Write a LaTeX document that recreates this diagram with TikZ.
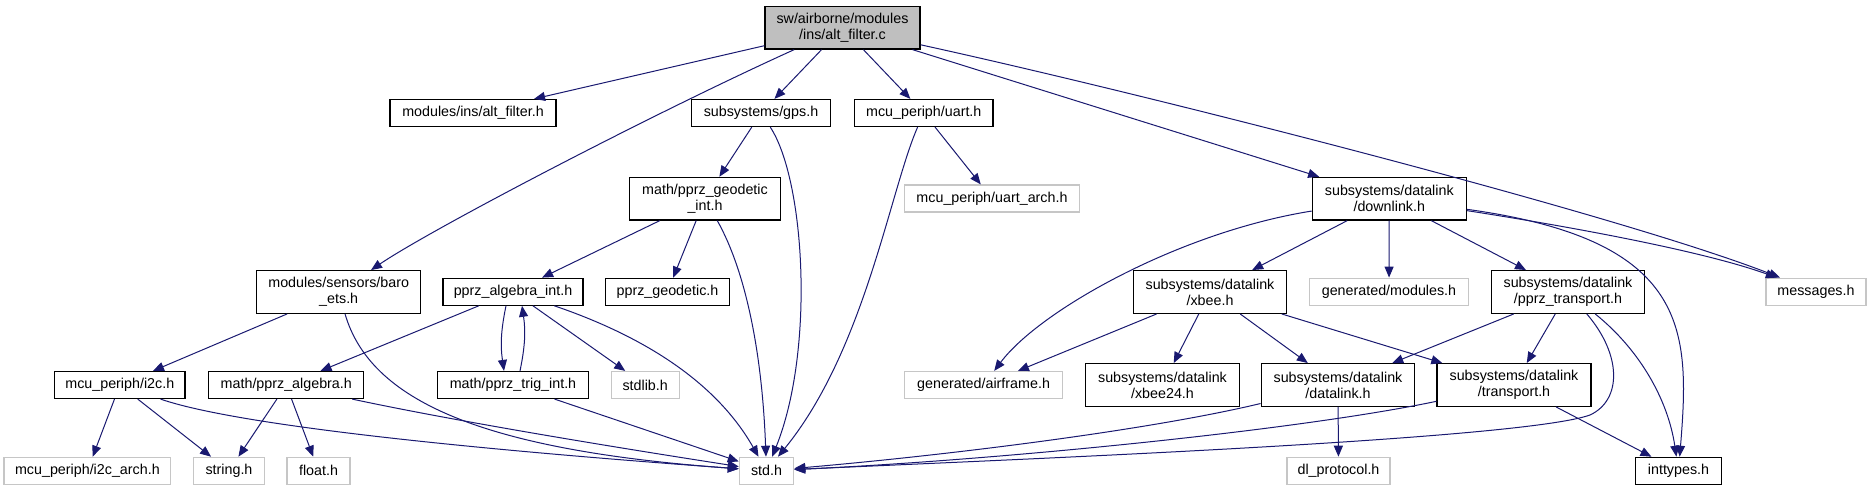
\documentclass[tikz,border=0pt]{standalone}
\usepackage{fontspec}
\setmainfont{Liberation Sans}
\usepackage{xcolor}
\usepackage{tikz}
\usetikzlibrary{arrows.meta}
\definecolor{depblue}{HTML}{191970}
\definecolor{rootgray}{HTML}{BFBFBF}
\definecolor{sysgray}{HTML}{C6C6C6}
\tikzset{
  filenode/.style={draw=black, line width=1.2pt, fill=white, inner sep=0pt, minimum height=27pt, align=center, font=\fontsize{14.3}{15.8}\selectfont},
  twoline/.style={minimum height=42.7pt},
  sysnode/.style={filenode, draw=sysgray},
  rootnode/.style={filenode, twoline, fill=rootgray},
  depline/.style={-{Triangle[length=11pt, width=9pt]}, line width=1pt, draw=depblue}
}

\begin{document}
\begin{tikzpicture}[x=1pt, y=-1pt]
  \useasboundingbox (0,0) rectangle (1871,491);

  % the file itself
  \node[rootnode, minimum width=155pt] at (842.5,27.7) (altc)
    {sw/airborne/modules\\/ins/alt\_filter.c};

  % direct includes
  \node[filenode, minimum width=166pt] at (473,113) (altfh) {modules/ins/alt\_filter.h};
  \node[filenode, minimum width=139pt] at (761,113) (gps) {subsystems/gps.h};
  \node[filenode, minimum width=138.5pt] at (923.8,113) (uart) {mcu\_periph/uart.h};

  \node[filenode, twoline, minimum width=151pt] at (705,198.7) (geoint)
    {math/pprz\_geodetic\\\_int.h};
  \node[sysnode, minimum width=174.5pt] at (992,198.5) (uarch) {mcu\_periph/uart\_arch.h};
  \node[filenode, twoline, minimum width=154pt] at (1389.3,198.7) (dlink)
    {subsystems/datalink\\/downlink.h};

  \node[filenode, twoline, minimum width=164pt] at (338.7,292) (baro)
    {modules/sensors/baro\\\_ets.h};
  \node[filenode, minimum width=140pt] at (513,291.7) (algint) {pprz\_algebra\_int.h};
  \node[filenode, minimum width=124pt] at (667.5,291.7) (geod) {pprz\_geodetic.h};
  \node[filenode, twoline, minimum width=153.5pt] at (1210,292) (xbee)
    {subsystems/datalink\\/xbee.h};
  \node[sysnode, minimum width=159pt] at (1389,291.7) (genmod) {generated/modules.h};
  \node[filenode, twoline, minimum width=153pt] at (1568,292) (pprztr)
    {subsystems/datalink\\/pprz\_transport.h};
  \node[sysnode, minimum width=100pt] at (1816,291.7) (msgs) {messages.h};

  \node[filenode, minimum width=130.4pt] at (119.8,385) (i2c) {mcu\_periph/i2c.h};
  \node[filenode, minimum width=155pt] at (286.3,385) (alg) {math/pprz\_algebra.h};
  \node[filenode, minimum width=150.7pt] at (513,385) (trig) {math/pprz\_trig\_int.h};
  \node[sysnode, minimum width=68pt] at (645.2,385) (stdlib) {stdlib.h};
  \node[sysnode, minimum width=158pt] at (983.6,385) (airframe) {generated/airframe.h};
  \node[filenode, twoline, minimum width=153.4pt] at (1162.5,385) (xbee24)
    {subsystems/datalink\\/xbee24.h};
  \node[filenode, twoline, minimum width=153.7pt] at (1338,385) (dlk)
    {subsystems/datalink\\/datalink.h};
  \node[filenode, twoline, minimum width=154pt] at (1514,385) (transp)
    {subsystems/datalink\\/transport.h};

  % bottom row
  \node[sysnode, minimum width=166.8pt] at (87.4,470.8) (i2carch) {mcu\_periph/i2c\_arch.h};
  \node[sysnode, minimum width=70.3pt] at (229,470.8) (strh) {string.h};
  \node[sysnode, minimum width=63pt] at (318.5,470.8) (floath) {float.h};
  \node[sysnode, minimum width=54.3pt] at (766.5,470.8) (stdh) {std.h};
  \node[sysnode, minimum width=103pt] at (1338.5,470.8) (dlproto) {dl\_protocol.h};
  \node[filenode, minimum width=85.7pt] at (1678.5,470.8) (inttypes) {inttypes.h};

  % alt_filter.c
  \draw[depline] (altc) -- (altfh);
  \draw[depline] (altc) .. controls (650,115) and (430,230) .. (baro);
  \draw[depline] (altc) -- (gps);
  \draw[depline] (altc) -- (uart);
  \draw[depline] (altc) -- (dlink);
  \draw[depline] (altc) .. controls (1150,95) and (1620,215) .. (msgs);

  % gps.h, uart.h
  \draw[depline] (gps) -- (geoint);
  \draw[depline] (gps) .. controls (805,180) and (815,350) .. (stdh);
  \draw[depline] (uart) -- (uarch);
  \draw[depline] (uart) .. controls (890,190) and (865,350) .. (stdh);

  % pprz_geodetic_int.h
  \draw[depline] (geoint) -- (algint);
  \draw[depline] (geoint) -- (geod);
  \draw[depline] (geoint) .. controls (745,270) and (762,350) .. (stdh);

  % downlink.h
  \draw[depline] (dlink) .. controls (1180,232) and (1040,310) .. (airframe);
  \draw[depline] (dlink) -- (xbee);
  \draw[depline] (dlink) -- (genmod);
  \draw[depline] (dlink) -- (pprztr);
  \draw[depline] (dlink) .. controls (1560,225) and (1700,250) .. (msgs);
  \draw[depline] (dlink) .. controls (1690,240) and (1690,330) .. (inttypes);

  % baro_ets.h
  \draw[depline] (baro) -- (i2c);
  \draw[depline] (baro) .. controls (370,400) and (480,450) .. (stdh);

  % pprz_algebra_int.h <-> pprz_trig_int.h
  \draw[depline] (algint) -- (alg);
  \draw[depline] ([xshift=-7pt]algint.south) to[bend right=10] ([xshift=-9pt]trig.north);
  \draw[depline] ([xshift=7pt]trig.north) to[bend right=10] ([xshift=9pt]algint.south);
  \draw[depline] (algint) -- (stdlib);
  \draw[depline] (algint) .. controls (640,335) and (715,380) .. (stdh);
  \draw[depline] (trig) -- (stdh);

  % xbee.h
  \draw[depline] (xbee) -- (airframe);
  \draw[depline] (xbee) -- (xbee24);
  \draw[depline] (xbee) -- (dlk);
  \draw[depline] (xbee) -- (transp);

  % pprz_transport.h
  \draw[depline] (pprztr) -- (dlk);
  \draw[depline] (pprztr) -- (transp);
  \draw[depline] (pprztr) .. controls (1622,355) and (1622,400) .. (1590,415)
    .. controls (1520,440) and (1000,460) .. (stdh);
  \draw[depline] (pprztr) .. controls (1640,350) and (1668,400) .. (inttypes);

  % i2c.h, pprz_algebra.h
  \draw[depline] (i2c) -- (i2carch);
  \draw[depline] (i2c) -- (strh);
  \draw[depline] (i2c) .. controls (250,430) and (550,455) .. (stdh);
  \draw[depline] (alg) -- (strh);
  \draw[depline] (alg) -- (floath);
  \draw[depline] (alg) .. controls (450,420) and (600,445) .. (stdh);

  % datalink.h, transport.h
  \draw[depline] (dlk) -- (dlproto);
  \draw[depline] (dlk) .. controls (1150,430) and (950,455) .. (stdh);
  \draw[depline] (transp) .. controls (1300,430) and (1000,460) .. (stdh);
  \draw[depline] (transp) -- (inttypes);
\end{tikzpicture}
\end{document}
